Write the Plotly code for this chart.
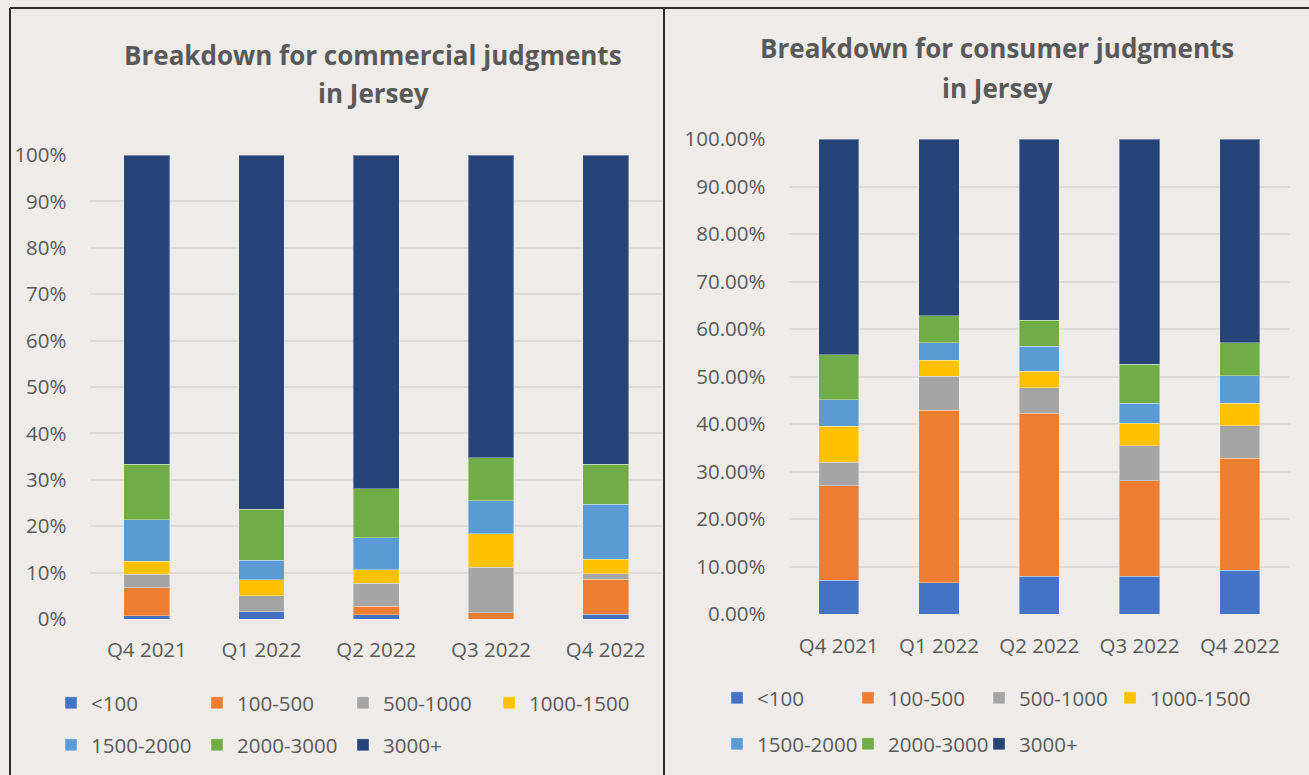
import plotly.graph_objects as go

# ---------------- data ----------------
quarters = ["Q4 2021", "Q1 2022", "Q2 2022", "Q3 2022", "Q4 2022"]
bands = ["<100", "100-500", "500-1000", "1000-1500", "1500-2000", "2000-3000", "3000+"]

# commercial judgments (% share per quarter)
com_lt100 = [0.7, 1.6, 0.9, 0.0, 1.0]
com_100_500 = [6.0, 0.0, 1.9, 1.4, 7.6]
com_500_1000 = [2.9, 3.4, 4.9, 9.8, 1.1]
com_1000_1500 = [2.9, 3.5, 2.9, 7.2, 3.2]
com_1500_2000 = [8.9, 4.2, 6.9, 7.1, 11.8]
com_2000_3000 = [11.9, 11.0, 10.6, 9.2, 8.6]
com_3000p = [66.7, 76.3, 71.9, 65.3, 66.7]

# consumer judgments (% share per quarter)
con_lt100 = [7.1, 6.6, 7.9, 7.9, 9.2]
con_100_500 = [19.9, 36.3, 34.4, 20.2, 23.6]
con_500_1000 = [4.9, 7.2, 5.3, 7.3, 6.8]
con_1000_1500 = [7.6, 3.3, 3.5, 4.8, 4.8]
con_1500_2000 = [5.6, 3.7, 5.3, 4.2, 5.8]
con_2000_3000 = [9.5, 5.7, 5.4, 8.2, 6.9]
con_3000p = [45.4, 37.2, 38.2, 47.4, 42.9]

commercial = [com_lt100, com_100_500, com_500_1000, com_1000_1500,
              com_1500_2000, com_2000_3000, com_3000p]
consumer = [con_lt100, con_100_500, con_500_1000, con_1000_1500,
            con_1500_2000, con_2000_3000, con_3000p]

colors = ["#4472C4", "#ED7D31", "#A5A5A5", "#FFC000", "#5B9BD5", "#70AD47", "#264478"]

# ---------------- figure ----------------
W, H = 1309, 775
BG = "#EEEBE9"
TXT = "#595959"
FONT = "Open Sans"
GRID = "#DCD9D7"


def px(x):
    return x / W


def py(y):
    return 1 - y / H


# legend assignment: commercial rows -> legend / legend2,
# consumer rows -> legend3 (+ legend5 for 4th item) / legend4
com_leg = ["legend", "legend", "legend", "legend", "legend2", "legend2", "legend2"]
con_leg = ["legend3", "legend3", "legend3", "legend5", "legend4", "legend4", "legend4"]

fig = go.Figure()

for i, (name, col) in enumerate(zip(bands, colors)):
    fig.add_trace(go.Bar(
        x=quarters, y=commercial[i], name=name, marker_color=col,
        marker_line=dict(color="rgba(255,255,255,0.35)", width=1),
        xaxis="x", yaxis="y", legend=com_leg[i],
    ))
for i, (name, col) in enumerate(zip(bands, colors)):
    fig.add_trace(go.Bar(
        x=quarters, y=consumer[i], name=name, marker_color=col,
        marker_line=dict(color="rgba(255,255,255,0.35)", width=1),
        xaxis="x2", yaxis="y2", legend=con_leg[i],
    ))

axis_font = dict(family=FONT, size=20.5, color=TXT)

fig.update_layout(
    width=W, height=H,
    margin=dict(l=0, r=0, t=0, b=0, autoexpand=False),
    paper_bgcolor=BG, plot_bgcolor=BG,
    barmode="stack", bargap=0.6,
    font=dict(family=FONT, color=TXT),
    xaxis=dict(domain=[px(89.5), px(663)], type="category",
               showgrid=False, zeroline=False, showline=False,
               tickfont=axis_font, ticks="", ticklabelstandoff=16, anchor="y"),
    yaxis=dict(domain=[py(619), py(155)], range=[0, 100], dtick=10,
               ticksuffix="%", showgrid=True, gridcolor=GRID, gridwidth=2,
               zeroline=False, showline=False, tickfont=axis_font,
               ticks="", ticklabelstandoff=22, anchor="x"),
    xaxis2=dict(domain=[px(788.5), px(1290)], type="category",
                showgrid=False, zeroline=False, showline=False,
                tickfont=axis_font, ticks="", ticklabelstandoff=17, anchor="y2"),
    yaxis2=dict(domain=[py(614), py(139)], range=[0, 100], dtick=10,
                tickformat=".2f", ticksuffix="%", showgrid=True, gridcolor=GRID,
                gridwidth=2, zeroline=False, showline=False, tickfont=axis_font,
                ticks="", ticklabelstandoff=22, anchor="x2"),
    showlegend=True,
)

leg_common = dict(orientation="h", xanchor="left", yanchor="middle",
                  bgcolor="rgba(0,0,0,0)", font=dict(family=FONT, size=20.5, color=TXT),
                  traceorder="normal")
fig.update_layout(
    legend=dict(x=px(51), y=py(703), entrywidth=101, **leg_common),
    legend2=dict(x=px(51), y=py(745), entrywidth=101, **leg_common),
    legend3=dict(x=px(717), y=py(698), entrywidth=86, **leg_common),
    legend5=dict(x=px(717 + 3 * 131), y=py(698), entrywidth=101, **leg_common),
    legend4=dict(x=px(717), y=py(744), entrywidth=86, **leg_common),
)

# titles
title_font = dict(family=FONT, size=26, color=TXT)
for text, x, y in [("Breakdown for commercial judgments", 373, 55),
                   ("in Jersey", 373, 93),
                   ("Breakdown for consumer judgments", 997, 48),
                   ("in Jersey", 997, 88)]:
    fig.add_annotation(text="<b>" + text + "</b>", x=px(x), y=py(y),
                       xref="paper", yref="paper", showarrow=False,
                       xanchor="center", yanchor="middle", font=title_font)

# panel borders
border = dict(color="#2E2E2E", width=2)
fig.add_shape(type="line", xref="paper", yref="paper",
              x0=px(10), x1=1, y0=py(8), y1=py(8), line=border)
fig.add_shape(type="line", xref="paper", yref="paper",
              x0=px(10), x1=px(10), y0=py(8), y1=0, line=border)
fig.add_shape(type="line", xref="paper", yref="paper",
              x0=px(664), x1=px(664), y0=py(8), y1=0, line=border)

page_css = ("document.body.style.margin='0';"
            "document.body.style.background='%s';" % BG)
fig.write_html("out.html", post_script=page_css,
               config={"displayModeBar": False})
